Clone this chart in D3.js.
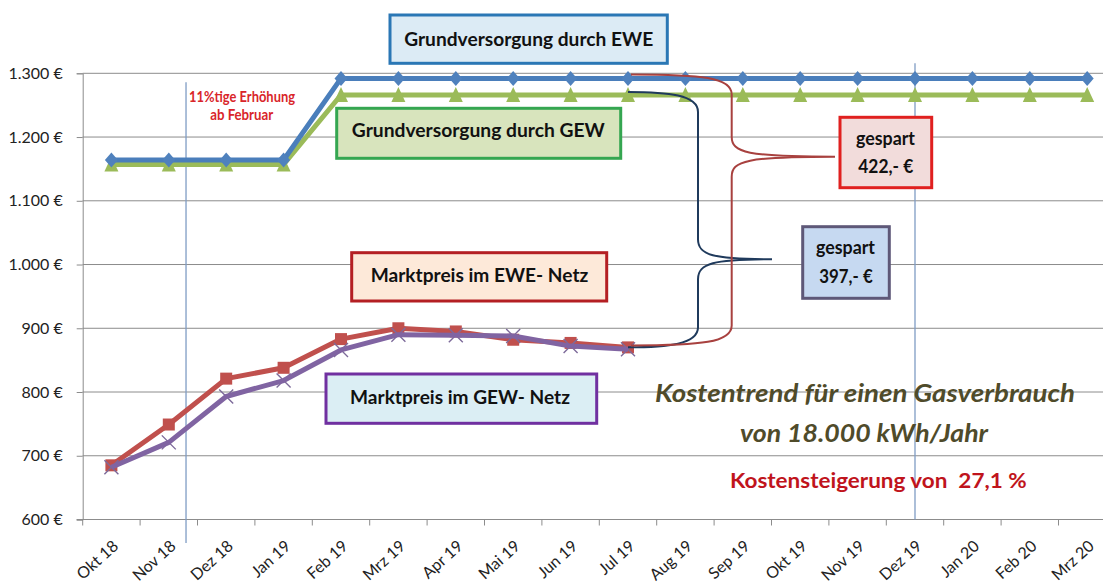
<!DOCTYPE html>
<html><head><meta charset="utf-8">
<script src="https://cdn.jsdelivr.net/npm/d3@7"></script>
<style>
html,body{margin:0;padding:0;background:#fff;}
svg{display:block;}
text{font-family:Lato,"Open Sans",sans-serif;}
</style></head>
<body>
<svg id="chart" width="1103" height="584"></svg>
<script>
// ---------- DATA ----------
const categories = ["Okt 18","Nov 18","Dez 18","Jan 19","Feb 19","Mrz 19","Apr 19","Mai 19","Jun 19","Jul 19","Aug 19","Sep 19","Okt 19","Nov 19","Dez 19","Jan 20","Feb 20","Mrz 20"];
const grundEWE = [1164,1164,1164,1164,1292,1292,1292,1292,1292,1292,1292,1292,1292,1292,1292,1292,1292,1292];
const grundGEW = [1157,1157,1157,1157,1266,1266,1266,1266,1266,1266,1266,1266,1266,1266,1266,1266,1266,1266];
const marktEWE = [685,749,821,838,883,900,895,882,877,870];
const marktGEW = [682,721,793,818,866,890,889,888,872,867];
const yTicks = [600,700,800,900,1000,1100,1200,1300];
const savedEWE = 422;   // 1292 - 870
const savedGEW = 397;   // 1266 - 869
const markerLinePositions = [1.3, 14]; // category positions of the thin vertical lines

// ---------- LAYOUT ----------
const svg = d3.select("#chart");
const W = 1103, H = 584;
const x0 = 82.7, bw = 57.4;
const xb = d3.scaleBand().domain(categories).range([x0, x0 + bw*categories.length]).padding(0);
const xc = i => xb(categories[i]) + xb.bandwidth()/2;
const xp = p => x0 + bw*(p + 0.5);
const y = d3.scaleLinear().domain([600,1300]).range([519.5, 73.3]);
const deFmt = d3.formatLocale({decimal:",", thousands:".", grouping:[3], currency:["","\u00a0€"]}).format(",");

svg.append("rect").attr("width",W).attr("height",H).attr("fill","#fff");

// gridlines
svg.append("g").selectAll("line").data(yTicks).join("line")
  .attr("x1", x0).attr("x2", W+20)
  .attr("y1", d=>y(d)).attr("y2", d=>y(d))
  .attr("stroke", "#8c8c8c").attr("stroke-width", 1);

// y axis
const yAxis = svg.append("g").attr("transform", `translate(${x0},0)`)
  .call(d3.axisLeft(y).tickValues(yTicks).tickSize(6).tickPadding(14).tickFormat(d => deFmt(d) + " €"));
yAxis.select(".domain").attr("stroke","#8c8c8c");
yAxis.selectAll(".tick line").attr("stroke","#8c8c8c");
yAxis.selectAll("text").attr("font-size",16).attr("fill","#222").attr("font-family","Lato, sans-serif");

// x axis baseline + boundary ticks
svg.append("line").attr("x1",x0-6).attr("x2",W+20).attr("y1",y(600)).attr("y2",y(600)).attr("stroke","#8c8c8c");
svg.append("g").selectAll("line").data(d3.range(categories.length+1)).join("line")
  .attr("x1", i=>x0+i*bw).attr("x2", i=>x0+i*bw)
  .attr("y1", y(600)).attr("y2", y(600)+6).attr("stroke","#8c8c8c");

// x labels
const xAxis = svg.append("g").attr("transform", `translate(0,${y(600)})`)
  .call(d3.axisBottom(xb).tickSize(0));
xAxis.select(".domain").remove();
xAxis.selectAll(".tick text")
  .attr("font-size", 16).attr("fill","#222").attr("font-family","Lato, sans-serif")
  .attr("text-anchor","end").attr("y",0).attr("dy",0)
  .attr("transform","translate(8,28) rotate(-42)");

// vertical marker lines
svg.append("line").attr("x1",xp(markerLinePositions[0])).attr("x2",xp(markerLinePositions[0]))
  .attr("y1",82.3).attr("y2",543).attr("stroke","#7f9cc4").attr("stroke-width",1.3);
svg.append("line").attr("x1",xp(markerLinePositions[1])).attr("x2",xp(markerLinePositions[1]))
  .attr("y1",63.3).attr("y2",y(600)).attr("stroke","#7f9cc4").attr("stroke-width",1.3);

const line = d3.line().x((d,i)=>xc(i)).y(d=>y(d));

// series: Grundversorgung GEW (green, triangles)
svg.append("path").datum(grundGEW).attr("d",line).attr("fill","none")
  .attr("stroke","#9bbb59").attr("stroke-width",5).attr("stroke-linejoin","round");
svg.append("g").selectAll("path").data(grundGEW).join("path")
  .attr("transform",(d,i)=>`translate(${xc(i)},${y(d)})`)
  .attr("d","M0,-8 L7,7 L-7,7 Z").attr("fill","#9bbb59");

// series: Grundversorgung EWE (blue, diamonds)
svg.append("path").datum(grundEWE).attr("d",line).attr("fill","none")
  .attr("stroke","#4a7ebb").attr("stroke-width",5).attr("stroke-linejoin","round");
svg.append("g").selectAll("path").data(grundEWE).join("path")
  .attr("transform",(d,i)=>`translate(${xc(i)},${y(d)})`)
  .attr("d","M0,-7.5 L6.5,0 L0,7.5 L-6.5,0 Z").attr("fill","#4f81bd");

// series: Marktpreis EWE (red, squares)
svg.append("path").datum(marktEWE).attr("d",line).attr("fill","none")
  .attr("stroke","#c0504d").attr("stroke-width",5).attr("stroke-linejoin","round");
svg.append("g").selectAll("rect").data(marktEWE).join("rect")
  .attr("x",(d,i)=>xc(i)-6).attr("y",d=>y(d)-6).attr("width",12).attr("height",12)
  .attr("fill","#c0504d");

// series: Marktpreis GEW (purple, x)
svg.append("g").selectAll("path").data(marktGEW).join("path")
  .attr("transform",(d,i)=>`translate(${xc(i)},${y(d)})`)
  .attr("d","M-7,-7 L7,7 M-7,7 L7,-7").attr("stroke","#7d6a9a").attr("stroke-width",1.4).attr("fill","none");
svg.append("path").datum(marktGEW).attr("d",line).attr("fill","none")
  .attr("stroke","#8064a2").attr("stroke-width",5).attr("stroke-linejoin","round");

// ---------- braces ----------
function brace(xs, yTop, yBot, xv, xt, yMid, color){
  const p = d3.path();
  p.moveTo(xs, yTop);
  p.bezierCurveTo(xv-30, yTop, xv, yTop+3, xv, yTop+20);
  p.lineTo(xv, yMid-20);
  p.bezierCurveTo(xv, yMid-4, xv+15, yMid, xt, yMid);
  p.moveTo(xt, yMid);
  p.bezierCurveTo(xv+15, yMid, xv, yMid+4, xv, yMid+20);
  p.lineTo(xv, yBot-20);
  p.bezierCurveTo(xv, yBot-3, xv-30, yBot, xs, yBot);
  svg.append("path").attr("d", p.toString()).attr("fill","none")
    .attr("stroke", color).attr("stroke-width", 2);
}
const iJul = categories.indexOf("Jul 19");
brace(xc(iJul), y(grundGEW[iJul])-3, y(marktGEW[iJul])-2, 698, 772, 259.3, "#1f3a5c");
brace(xc(iJul)+3, y(grundEWE[iJul])-4, y(marktEWE[iJul])-2, 731.7, 835, 156.7, "#a8413f");

// ---------- boxes ----------
function box(x1, y1, x2, y2, stroke, fill){
  svg.append("rect").attr("x",x1).attr("y",y1).attr("width",x2-x1).attr("height",y2-y1)
    .attr("fill",fill).attr("stroke",stroke).attr("stroke-width",3);
}
function label(txt, cx, by, targetW, fs, opts={}){
  const t = svg.append("text").attr("x",cx).attr("y",by).attr("text-anchor","middle")
    .attr("font-size",fs).attr("font-weight",opts.weight||"bold")
    .attr("font-style",opts.style||"normal").attr("fill",opts.color||"#111")
    .style("white-space","pre").text(txt);
  t.attr("textLength", targetW).attr("lengthAdjust","spacingAndGlyphs");
  return t;
}
box(390, 15, 667.3, 63.3, "#2a77b5", "#dcebf5");
label("Grundversorgung durch EWE", 528.7, 45.5, 249, 19.5);
box(336.7, 108.3, 620.7, 158.3, "#35a651", "#d8e4bd");
label("Grundversorgung durch GEW", 478.3, 137.2, 253, 19.5);
box(351.7, 252.7, 606.7, 301, "#b41f23", "#fde9d9");
label("Marktpreis im EWE- Netz", 479.5, 282.2, 217.6, 19.5);
box(326, 374, 596.7, 423.3, "#7030a0", "#dbeef4");
label("Marktpreis im GEW- Netz", 460, 403.8, 220, 19.5);
box(840, 117.3, 931.7, 187.7, "#e0201f", "#f2dcdb");
label("gespart", 885.5, 145, 59, 18.5);
label(savedEWE + ",- €", 885.8, 173.3, 55, 18.5);
box(802.7, 226.7, 889.3, 298.3, "#5e5878", "#c6d9f1");
label("gespart", 845.5, 254.3, 59, 18.5);
label(savedGEW + ",- €", 846, 282.7, 53.4, 18.5);

// annotation texts
label("11%tige Erhöhung", 242, 101.7, 106, 15, {color:"#d9252a"});
label("ab Februar", 241.7, 120, 63, 15, {color:"#d9252a"});
label("Kostentrend für einen Gasverbrauch", 865, 401.7, 420, 25, {style:"italic", color:"#4f4b2a"});
label("von 18.000 kWh/Jahr", 864, 441.7, 248, 25, {style:"italic", color:"#4f4b2a"});
label("Kostensteigerung von  27,1 %", 878.3, 488, 296.7, 21, {color:"#c0141c"});
</script>
</body></html>
